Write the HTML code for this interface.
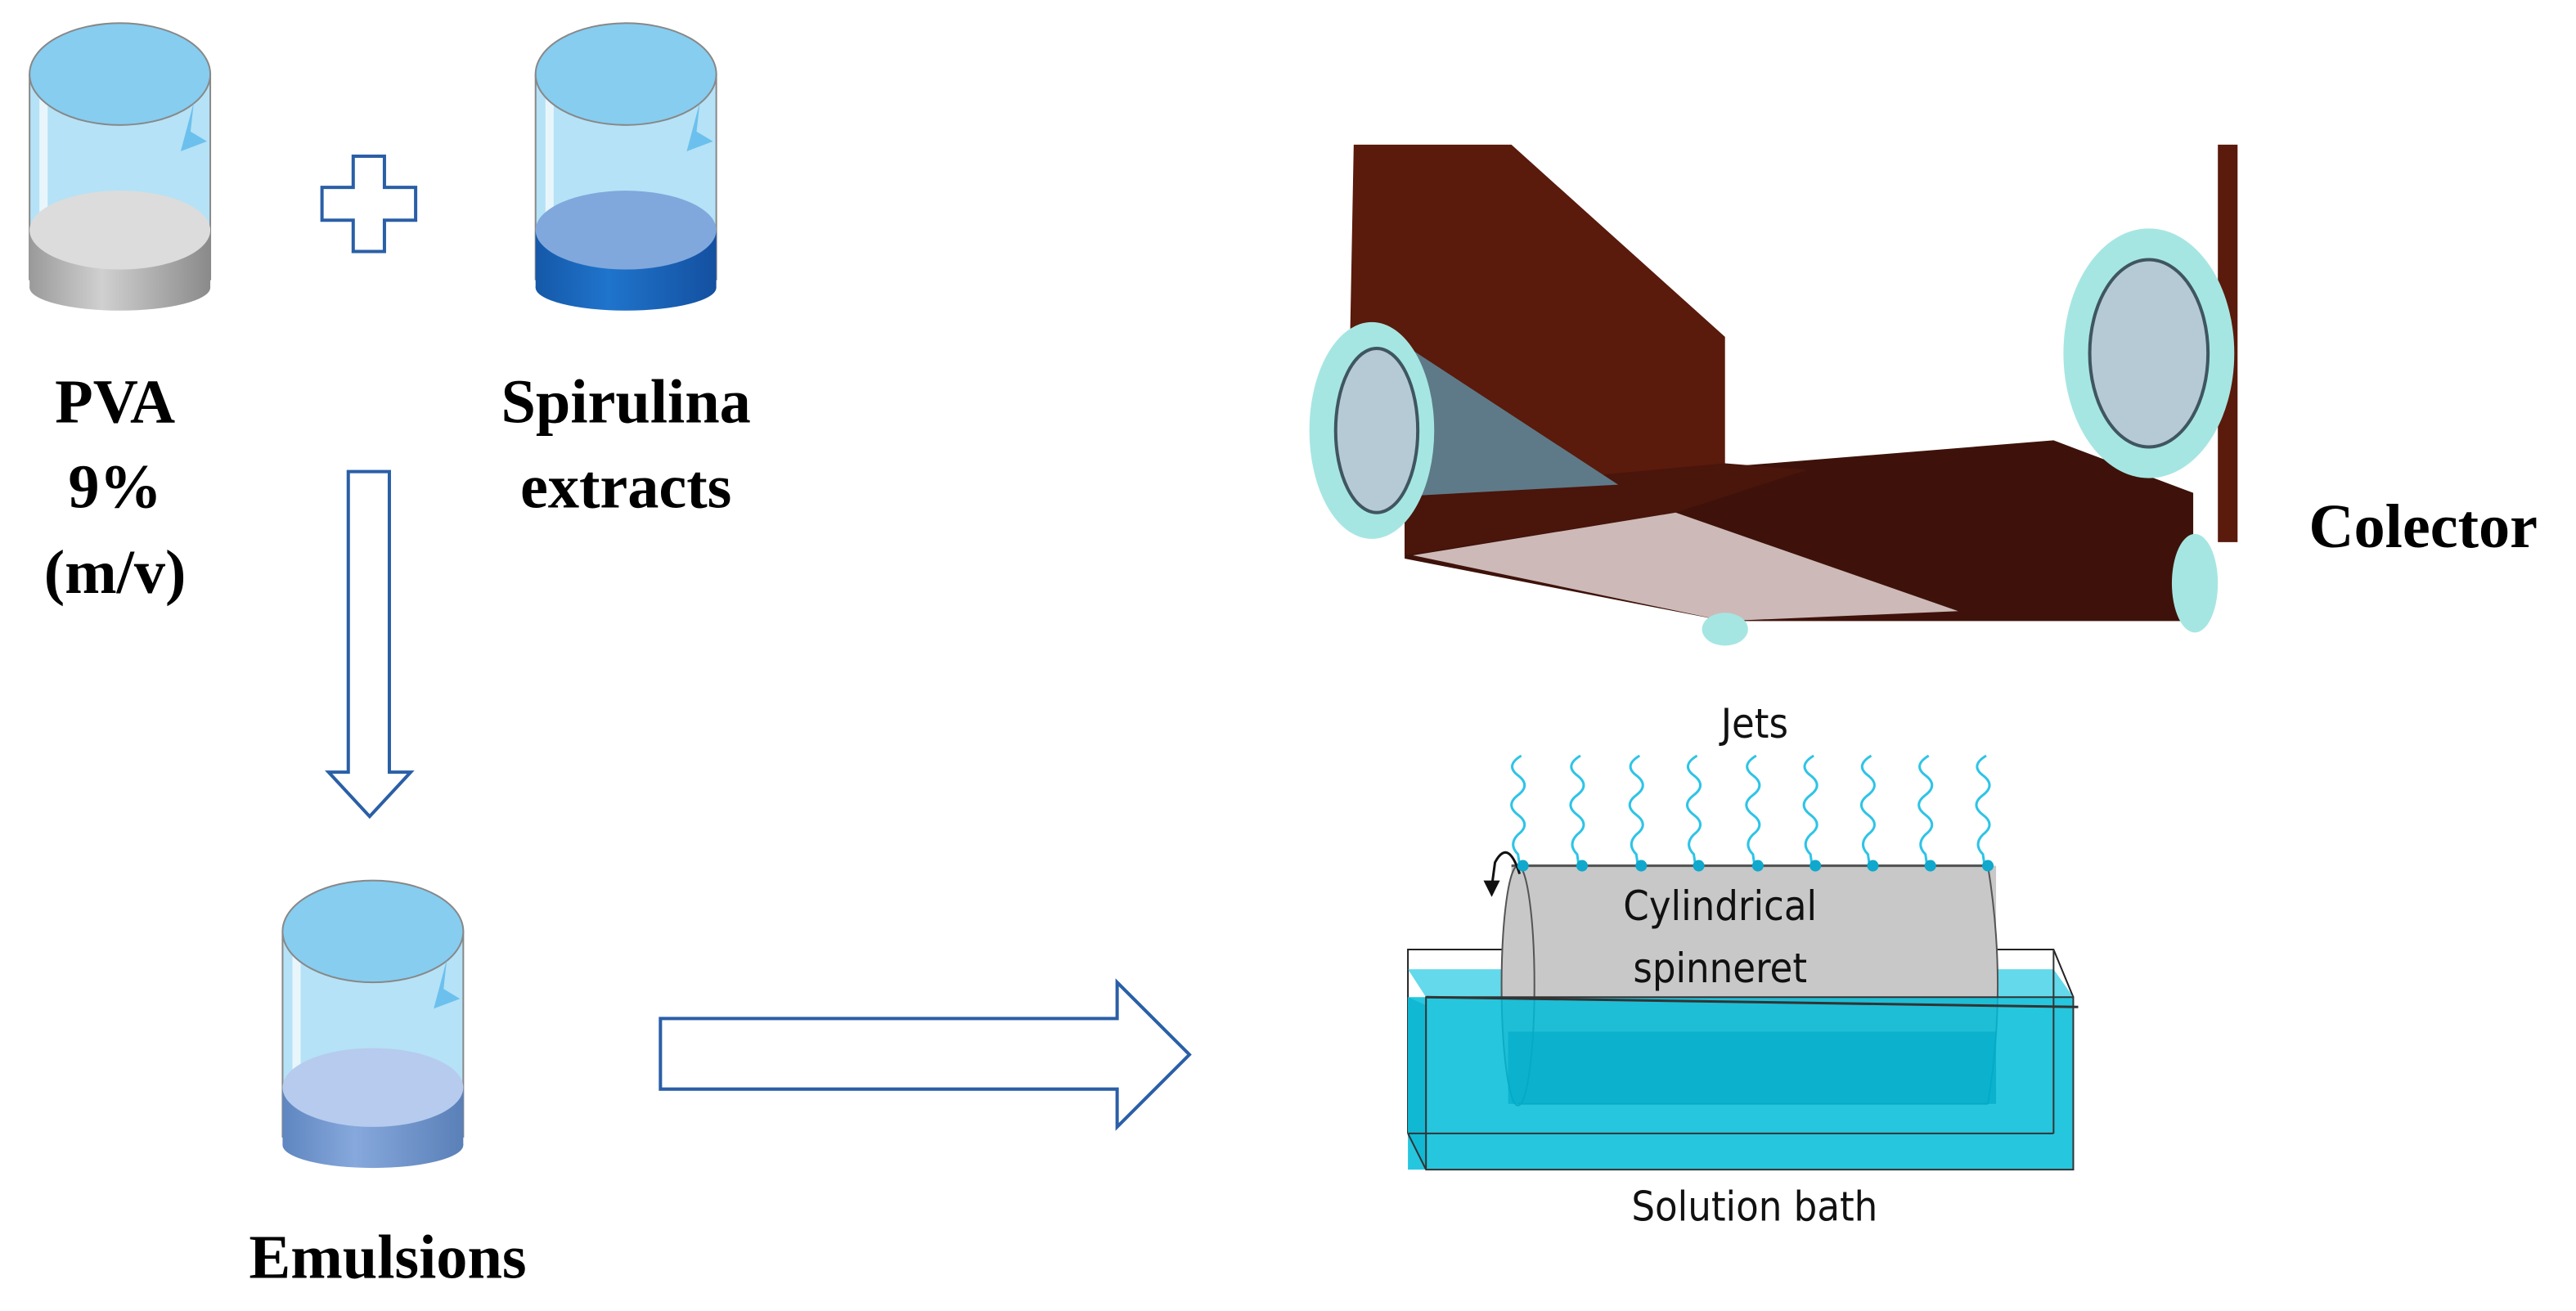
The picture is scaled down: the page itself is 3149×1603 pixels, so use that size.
<!DOCTYPE html>
<html><head><meta charset="utf-8"><style>
html,body{margin:0;padding:0;background:#fff;}
svg{display:block;}
.b{font-family:"Liberation Serif",serif;font-weight:bold;fill:#000;}
.s{font-family:"DejaVu Sans Condensed","DejaVu Sans","Liberation Sans",sans-serif;fill:#111;}
</style></head><body>
<svg width="3149" height="1603" viewBox="0 0 1568 798" xmlns="http://www.w3.org/2000/svg">
<defs>
<linearGradient id="grey" x1="0" x2="1"><stop offset="0" stop-color="#9a9a9a"/><stop offset=".4" stop-color="#d0d0d0"/><stop offset="1" stop-color="#8a8a8a"/></linearGradient>
<linearGradient id="blu" x1="0" x2="1"><stop offset="0" stop-color="#1558a8"/><stop offset=".4" stop-color="#1f74cc"/><stop offset="1" stop-color="#1450a0"/></linearGradient>
<linearGradient id="lblu" x1="0" x2="1"><stop offset="0" stop-color="#5f86c0"/><stop offset=".4" stop-color="#86a8dc"/><stop offset="1" stop-color="#5a80b8"/></linearGradient>
<g id="beaker">
<rect x="0" y="45" width="110" height="125" fill="#b5e2f6" stroke="#888" stroke-width="1"/>
<rect x="6" y="60" width="5" height="75" fill="#e8f6fc"/>
<ellipse cx="55" cy="45" rx="55" ry="31" fill="#86cdf0" stroke="#888" stroke-width="1"/>
<path d="M100,62 L98,80 L108,86 L92,92 Z" fill="#6cc0ee"/>
</g>
<path id="jet" d="M0,460 q-10,6 -2,12 q8,6 0,12 q-8,6 0,12 q8,6 0,12 q-6,6 0,12 l1,7"/>
</defs>

<g transform="translate(18,0)">
<use href="#beaker"/>
<rect x="0" y="140" width="110" height="35" fill="url(#grey)"/>
<ellipse cx="55" cy="175" rx="55" ry="14" fill="url(#grey)"/>
<ellipse cx="55" cy="140" rx="55" ry="24" fill="#dcdcdc"/>
</g>
<g transform="translate(326,0)">
<use href="#beaker"/>
<rect x="0" y="140" width="110" height="35" fill="url(#blu)"/>
<ellipse cx="55" cy="175" rx="55" ry="14" fill="url(#blu)"/>
<ellipse cx="55" cy="140" rx="55" ry="24" fill="#80a8dc"/>
</g>
<g transform="translate(172,522)">
<use href="#beaker"/>
<rect x="0" y="140" width="110" height="35" fill="url(#lblu)"/>
<ellipse cx="55" cy="175" rx="55" ry="14" fill="url(#lblu)"/>
<ellipse cx="55" cy="140" rx="55" ry="24" fill="#b6cbee"/>
</g>

<path d="M215,95 H234 V114 H253 V134 H234 V153 H215 V134 H196 V114 H215 Z" fill="#fff" stroke="#2a5fa6" stroke-width="2"/>
<path d="M212,287 H237 V470 H250 L225,497 L200,470 H212 Z" fill="#fff" stroke="#2a5fa6" stroke-width="2"/>
<path d="M402,620 H680 V598 L724,642 L680,686 V663 H402 Z" fill="#fff" stroke="#2a5fa6" stroke-width="2"/>

<g class="b" font-size="38" text-anchor="middle">
<text x="70" y="257">PVA</text>
<text x="70" y="309">9%</text>
<text x="70" y="361">(m/v)</text>
<text x="381" y="257">Spirulina</text>
<text x="381" y="309">extracts</text>
<text x="236" y="778">Emulsions</text>
<text x="1475" y="333">Colector</text>
</g>

<g>
<polygon points="824,88 920,88 1050,205 1050,300 820,300" fill="#5a1a0c"/>
<polygon points="1350,88 1362,88 1362,330 1350,330" fill="#5a1a0c"/>
<polygon points="855,300 1250,268 1335,300 1335,378 1050,378 855,340" fill="#3e120a"/>
<polygon points="855,300 1050,282 1100,286 1020,312 855,338" fill="#4a150b"/>
<polygon points="860,338 1020,312 1192,372 1050,378" fill="#cdbab8"/>
<polygon points="855,210 985,295 855,302" fill="#5e7a88"/>
<ellipse cx="1050" cy="383" rx="14" ry="10" fill="#a6e6e2"/>
<ellipse cx="1336" cy="355" rx="14" ry="30" fill="#a6e6e2"/>
<ellipse cx="835" cy="262" rx="38" ry="66" fill="#a6e6e2"/>
<ellipse cx="838" cy="262" rx="25" ry="50" fill="#b6cad6" stroke="#3f5660" stroke-width="2"/>
<ellipse cx="1308" cy="215" rx="52" ry="76" fill="#a6e6e2"/>
<ellipse cx="1308" cy="215" rx="36" ry="57" fill="#b6cad6" stroke="#3f5660" stroke-width="2"/>
</g>

<text class="s" x="1068" y="449" font-size="25" text-anchor="middle">Jets</text>
<polyline points="857,690 857,578 917,578" fill="none" stroke="#222" stroke-width="1"/>
<polyline points="1215,578 1250,578 1262,607" fill="none" stroke="#222" stroke-width="1"/>
<polygon points="857,590 1250,590 1262,607 868,607" fill="#3cd0e6" opacity=".8"/>
<rect x="920" y="527" width="295" height="145" fill="#c8c8c8"/>
<path d="M1210,527 Q1222,600 1210,672" fill="#c8c8c8" stroke="#555" stroke-width="1"/>
<line x1="920" y1="527" x2="1212" y2="527" stroke="#555" stroke-width="1.5"/>
<ellipse cx="924" cy="600" rx="10" ry="73" fill="#c8c8c8" stroke="#555" stroke-width="1"/>
<line x1="924" y1="672" x2="1210" y2="672" stroke="#555" stroke-width="1"/>
<rect x="857" y="607" width="405" height="105" fill="#00bcd8" opacity=".85"/>
<rect x="918" y="628" width="297" height="44" fill="#00a8c8" opacity=".6"/>
<polygon points="857,607 868,612 868,712 857,690" fill="#10b8d4"/>
<polyline points="857,690 868,712 1262,712 1262,607 868,607 868,712" fill="none" stroke="#333" stroke-width="1"/>
<line x1="857" y1="690" x2="1250" y2="690" stroke="#333" stroke-width="1"/>
<line x1="1250" y1="578" x2="1250" y2="690" stroke="#333" stroke-width="1"/>
<line x1="868" y1="607" x2="1265" y2="613" stroke="#333" stroke-width="1.5"/>
<path d="M925,532 Q918,510 910,525 L908,540" fill="none" stroke="#111" stroke-width="1.5"/>
<polygon points="903,536 913,536 908,546" fill="#111"/>
<text class="s" x="1047" y="560" font-size="25" text-anchor="middle">Cylindrical</text>
<text class="s" x="1047" y="598" font-size="25" text-anchor="middle">spinneret</text>
<text class="s" x="1068" y="743" font-size="25" text-anchor="middle">Solution bath</text>
<g fill="none" stroke="#2ec4e6" stroke-width="1.5">
<use href="#jet" x="926"/><use href="#jet" x="962"/><use href="#jet" x="998"/><use href="#jet" x="1033"/><use href="#jet" x="1069"/><use href="#jet" x="1104"/><use href="#jet" x="1139"/><use href="#jet" x="1174"/><use href="#jet" x="1209"/>
</g>
<g fill="#10a8cc">
<circle cx="927" cy="527" r="3.5"/><circle cx="963" cy="527" r="3.5"/><circle cx="999" cy="527" r="3.5"/><circle cx="1034" cy="527" r="3.5"/><circle cx="1070" cy="527" r="3.5"/><circle cx="1105" cy="527" r="3.5"/><circle cx="1140" cy="527" r="3.5"/><circle cx="1175" cy="527" r="3.5"/><circle cx="1210" cy="527" r="3.5"/>
</g>
</svg>
</body></html>
